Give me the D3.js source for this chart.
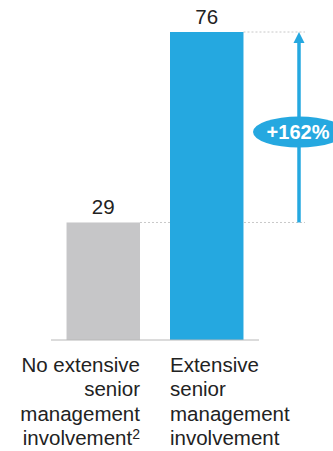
<!DOCTYPE html>
<html><head><meta charset="utf-8">
<script src="https://cdn.jsdelivr.net/npm/d3@7"></script>
<style>html,body{margin:0;padding:0;background:#fff;}svg{display:block;}</style>
</head><body>
<script>
const categories = ["No extensive senior management involvement", "Extensive senior management involvement"];
const values = [29, 76];
const labelLines = [["No extensive", "senior", "management", "involvement"], ["Extensive", "senior", "management", "involvement"]];
const changeLabel = "+162%";
const colors = ["#c6c6c8", "#25a8e0"];

const W = 333, H = 451;
const svg = d3.select("body").append("svg").attr("width", W).attr("height", H);
const font = "'Liberation Sans', Arial, sans-serif";

const x = d3.scaleBand().domain(categories).range([51, 259]).paddingInner(0.29).paddingOuter(0.15);
const y = d3.scaleLinear().domain([0, 76]).range([340, 32]);

// dashed guides
const xTopLeft = x(categories[1]) + x.bandwidth();
const xBotLeft = x(categories[0]) + x.bandwidth();
const guideEnd = 305;
svg.append("line").attr("x1", xTopLeft).attr("x2", guideEnd).attr("y1", y(values[1])).attr("y2", y(values[1]))
  .attr("stroke", "#c8c8c8").attr("stroke-width", 1).attr("stroke-dasharray", "2,2");
svg.append("line").attr("x1", xBotLeft).attr("x2", guideEnd).attr("y1", y(values[0])).attr("y2", y(values[0]))
  .attr("stroke", "#c8c8c8").attr("stroke-width", 1).attr("stroke-dasharray", "2,2");

// bars
svg.selectAll("rect.bar").data(values).join("rect").attr("class", "bar")
  .attr("x", (d, i) => x(categories[i])).attr("width", x.bandwidth())
  .attr("y", d => y(d)).attr("height", d => y(0) - y(d))
  .attr("fill", (d, i) => colors[i]);

// axis baseline
svg.append("line").attr("x1", 51).attr("x2", 259).attr("y1", y(0)).attr("y2", y(0))
  .attr("stroke", "#b8b8b8").attr("stroke-width", 1);

// value labels
svg.selectAll("text.val").data(values).join("text").attr("class", "val")
  .attr("x", (d, i) => x(categories[i]) + x.bandwidth() / 2)
  .attr("y", d => y(d) - 8)
  .attr("text-anchor", "middle").attr("font-family", font).attr("font-size", 20.5).attr("fill", "#222")
  .text(d => d);

// arrow
const ax = 299;
const blue = colors[1];
svg.append("line").attr("x1", ax).attr("x2", ax).attr("y1", y(values[0])).attr("y2", y(values[1]) + 10)
  .attr("stroke", blue).attr("stroke-width", 3.5);
svg.append("path")
  .attr("d", `M${ax},${y(values[1])} L${ax + 5.5},${y(values[1]) + 11} L${ax - 5.5},${y(values[1]) + 11} Z`)
  .attr("fill", blue);

// ellipse badge
const ey = 132;
svg.append("ellipse").attr("cx", ax).attr("cy", ey).attr("rx", 46).attr("ry", 15.5).attr("fill", blue);
svg.append("text").attr("x", ax - 1).attr("y", ey + 7).attr("text-anchor", "middle")
  .attr("font-family", font).attr("font-weight", "bold").attr("font-size", 20).attr("fill", "#fff")
  .text(changeLabel);

// category labels
const lineY = [372, 396.3, 420.6, 444.9];
labelLines.forEach((lines, i) => {
  const left = i === 0;
  const xx = left ? x(categories[i]) + x.bandwidth() : x(categories[i]);
  lines.forEach((ln, j) => {
    const t = svg.append("text").attr("x", xx).attr("y", lineY[j])
      .attr("text-anchor", left ? "end" : "start")
      .attr("font-family", font).attr("font-size", 20.5).attr("fill", "#222");
    t.append("tspan").text(ln);
    if (left && j === lines.length - 1) {
      t.append("tspan").attr("font-size", 14).attr("dy", -6).text("2");
    }
  });
});
</script>
</body></html>
